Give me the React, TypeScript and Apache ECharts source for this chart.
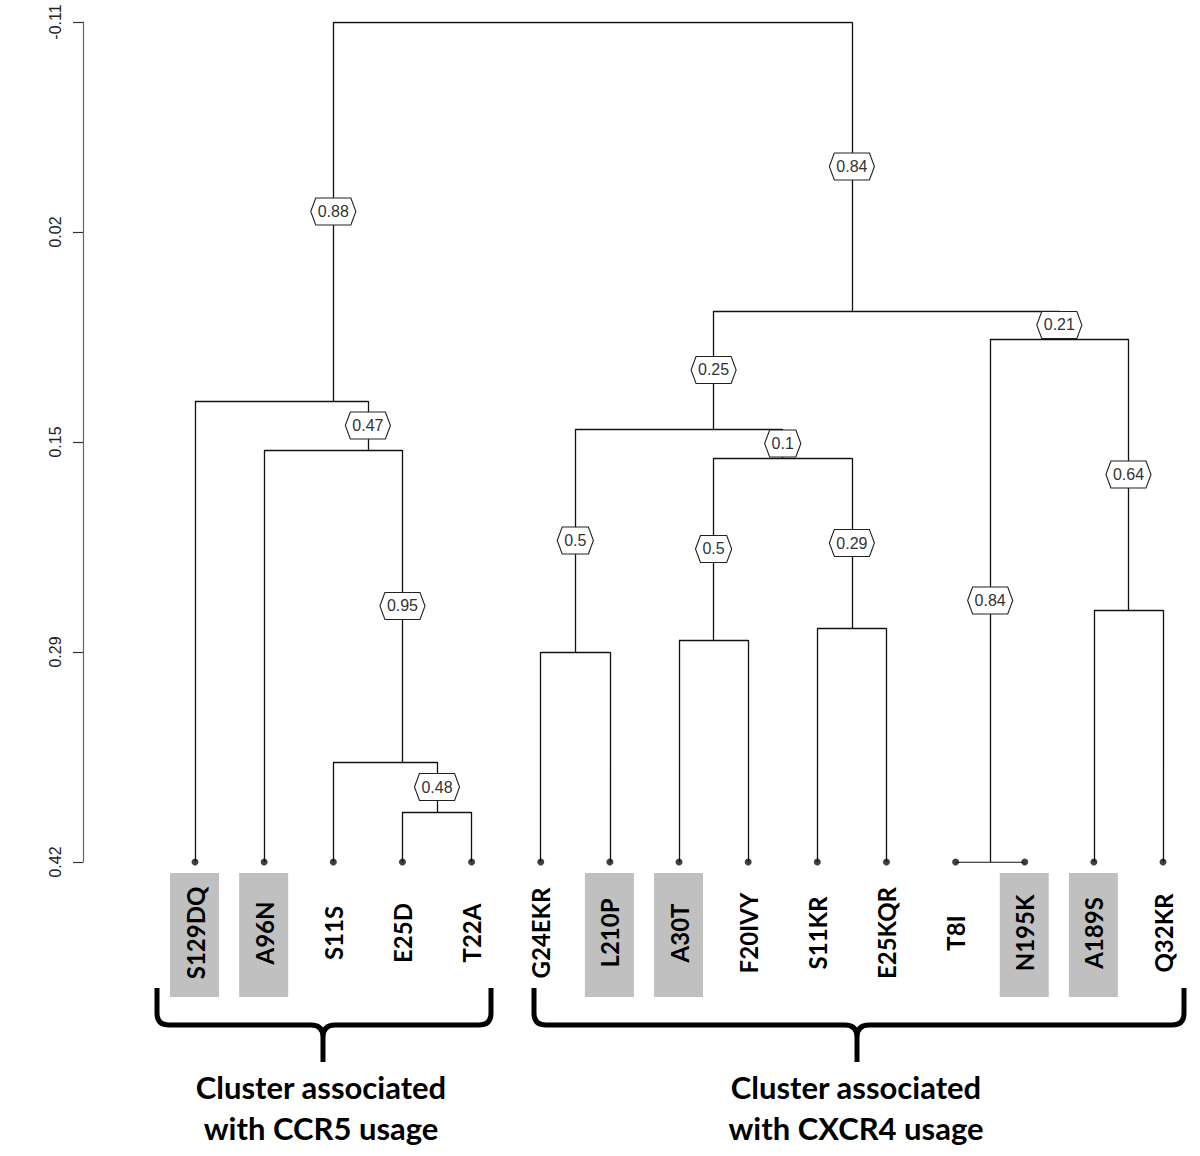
import React, { useEffect, useRef } from "react";
import * as echarts from "echarts";

// ---- Data ----
const leafNames = ["S129DQ", "A96N", "S11S", "E25D", "T22A", "G24EKR", "L210P", "A30T", "F20IVY", "S11KR", "E25KQR", "T8I", "N195K", "A189S", "Q32KR"];
const leafHighlighted = [true, true, false, false, false, false, true, true, false, false, false, false, true, true, false];

// hclust-style merges: negative = leaf (1-based), positive = merge row (1-based)
const mergeLeft = [-4, -3, -2, -1, -6, -8, -10, 6, 5, -12, -14, 10, 9, 4];
const mergeRight = [-5, 1, 2, 3, -7, -9, -11, 7, 8, -13, -15, 11, 12, 13];
const mergeHeight = [0.3885, 0.3569, 0.16, 0.1291, 0.2875, 0.2799, 0.2724, 0.1651, 0.1468, 0.42, 0.261, 0.09, 0.0723, -0.11];
const mergeSupport = ["0.48", "0.95", "0.47", "0.88", "0.5", "0.5", "0.29", "0.1", "0.25", "0.84", "0.64", "0.21", "0.84", ""];

const leafHeight = 0.42;
const yMin = -0.11;
const yMax = 0.42;
const yTickValues = [-0.11, 0.0225, 0.155, 0.2875, 0.42];
const yTickLabels = ["-0.11", "0.02", "0.15", "0.29", "0.42"];

const clusterLabels = [
  { lines: ["Cluster associated", "with CCR5 usage"], x: 321 },
  { lines: ["Cluster associated", "with CXCR4 usage"], x: 856 },
];

// ---- Tree geometry (in data units) ----
type NodeInfo = { x: number; h: number; minL: number; maxL: number };
function childInfo(c: number, nodes: NodeInfo[]): NodeInfo {
  if (c < 0) {
    const i = -c - 1;
    return { x: i, h: leafHeight, minL: i, maxL: i };
  }
  return nodes[c - 1];
}
function buildTree() {
  const nodes: NodeInfo[] = [];
  const segments: number[][][] = [];
  for (let r = 0; r < mergeLeft.length; r++) {
    const a = childInfo(mergeLeft[r], nodes);
    const b = childInfo(mergeRight[r], nodes);
    const minL = Math.min(a.minL, b.minL);
    const maxL = Math.max(a.maxL, b.maxL);
    const h = mergeHeight[r];
    nodes.push({ x: (minL + maxL) / 2, h, minL, maxL });
    segments.push([[a.x, h], [b.x, h]]);
    segments.push([[a.x, h], [a.x, a.h]]);
    segments.push([[b.x, h], [b.x, b.h]]);
  }
  // support label positions: midpoint of the branch above each node
  const labels: { x: number; y: number; text: string }[] = [];
  for (let r = 0; r < mergeLeft.length; r++) {
    const text = mergeSupport[r];
    if (!text) continue;
    let parent = -1;
    for (let p = 0; p < mergeLeft.length; p++) {
      if (mergeLeft[p] === r + 1 || mergeRight[p] === r + 1) parent = p;
    }
    if (parent < 0) continue;
    const n = nodes[r];
    labels.push({ x: n.x, y: (n.h + mergeHeight[parent]) / 2, text });
  }
  return { segments, labels };
}

function textWidth(t: string) {
  let w = 0;
  for (const ch of t) w += ch === "." ? 4.4 : 8.9;
  return w;
}

export default function App() {
  const ref = useRef<HTMLDivElement>(null);
  useEffect(() => {
    document.body.style.margin = "0";
    if (!ref.current) return;
    const chart = echarts.init(ref.current, undefined, { renderer: "svg" });
    const { segments, labels } = buildTree();

    echarts.graphic.registerShape(
      "braceLeft",
      echarts.graphic.extendPath(
        "M157 988 L157 1013 Q157 1025 169 1025 L311 1025 Q323 1025 323 1037 L323 1062 M323 1037 Q323 1025 335 1025 L479 1025 Q491 1025 491 1013 L491 988",
        {}
      )
    );
    echarts.graphic.registerShape(
      "braceRight",
      echarts.graphic.extendPath(
        "M534 988 L534 1013 Q534 1025 546 1025 L845 1025 Q857 1025 857 1037 L857 1062 M857 1037 Q857 1025 869 1025 L1172 1025 Q1184 1025 1184 1013 L1184 988",
        {}
      )
    );

    const clusterText: any[] = [];
    clusterLabels.forEach((c) => {
      c.lines.forEach((line, k) => {
        clusterText.push({
          type: "text",
          x: c.x,
          y: 1087 + k * 41,
          style: {
            text: line,
            align: "center",
            verticalAlign: "middle",
            fontFamily: "Lato",
            fontWeight: "bold",
            fontSize: 31,
            fill: "#000",
          },
        });
      });
    });

    const option: any = {
      animation: false,
      backgroundColor: "#fff",
      grid: { left: 83, right: 10, top: 22, bottom: 294 },
      xAxis: { type: "value", min: -1.62, max: 14.39, show: false },
      yAxis: {
        type: "value",
        inverse: true,
        min: yMin,
        max: yMax,
        axisLine: { show: true, onZero: false, lineStyle: { color: "#666", width: 1.2 } },
        axisTick: { show: true, length: 10, customValues: yTickValues, lineStyle: { color: "#333", width: 1.2 } },
        axisLabel: {
          show: true,
          rotate: 90,
          margin: 20,
          customValues: yTickValues,
          fontFamily: "Liberation Sans",
          fontSize: 16,
          color: "#222",
          formatter: (v: number) => {
            const i = yTickValues.findIndex((t) => Math.abs(t - v) < 1e-6);
            return i >= 0 ? yTickLabels[i] : "";
          },
        },
        splitLine: { show: false },
      },
      series: [
        {
          type: "lines",
          coordinateSystem: "cartesian2d",
          silent: true,
          z: 2,
          lineStyle: { color: "#111", width: 1.3, opacity: 1 },
          data: segments.map((s) => ({ coords: s })),
        },
        {
          type: "scatter",
          silent: true,
          z: 4,
          symbol: "circle",
          symbolSize: 7,
          itemStyle: { color: "#111" },
          data: leafNames.map((_, i) => [i, leafHeight]),
        },
        {
          type: "custom",
          silent: true,
          z: 5,
          clip: false,
          data: labels.map((l) => [l.x, l.y]),
          renderItem: (params: any, api: any) => {
            const p = api.coord([api.value(0), api.value(1)]);
            const text = labels[params.dataIndex].text;
            const w = textWidth(text) + 14;
            const h = 27;
            const cx = p[0];
            const cy = p[1];
            const inset = 5;
            return {
              type: "group",
              children: [
                {
                  type: "polygon",
                  shape: {
                    points: [
                      [cx - w / 2, cy],
                      [cx - w / 2 + inset, cy - h / 2],
                      [cx + w / 2 - inset, cy - h / 2],
                      [cx + w / 2, cy],
                      [cx + w / 2 - inset, cy + h / 2],
                      [cx - w / 2 + inset, cy + h / 2],
                    ],
                  },
                  style: { fill: "#fff", stroke: "#222", lineWidth: 1.1 },
                },
                {
                  type: "text",
                  style: {
                    text,
                    x: cx,
                    y: cy,
                    align: "center",
                    verticalAlign: "middle",
                    fontFamily: "Liberation Sans",
                    fontSize: 16,
                    fill: "#333",
                  },
                },
              ],
            };
          },
        },
        {
          type: "custom",
          silent: true,
          z: 5,
          clip: false,
          data: leafNames.map((_, i) => [i, leafHeight]),
          renderItem: (params: any, api: any) => {
            const i = params.dataIndex;
            const p = api.coord([api.value(0), api.value(1)]);
            const children: any[] = [];
            if (leafHighlighted[i]) {
              children.push({
                type: "rect",
                shape: { x: p[0] - 25, y: p[1] + 11, width: 49, height: 124 },
                style: { fill: "#c0c0c0" },
              });
            }
            children.push({
              type: "text",
              x: p[0],
              y: p[1] + 71,
              rotation: Math.PI / 2,
              style: {
                text: leafNames[i],
                x: 0,
                y: 0,
                align: "center",
                verticalAlign: "middle",
                fontFamily: "Lato",
                fontWeight: "bold",
                fontSize: 24,
                fill: "#000",
              },
            });
            return { type: "group", children };
          },
        },
      ],
      graphic: [
        { type: "braceLeft", x: 0, y: 0, style: { fill: "none", stroke: "#000", lineWidth: 5 } },
        { type: "braceRight", x: 0, y: 0, style: { fill: "none", stroke: "#000", lineWidth: 5 } },
        ...clusterText,
      ],
    };
    chart.setOption(option);
    return () => chart.dispose();
  }, []);
  return <div ref={ref} style={{ width: 1200, height: 1156 }} />;
}
